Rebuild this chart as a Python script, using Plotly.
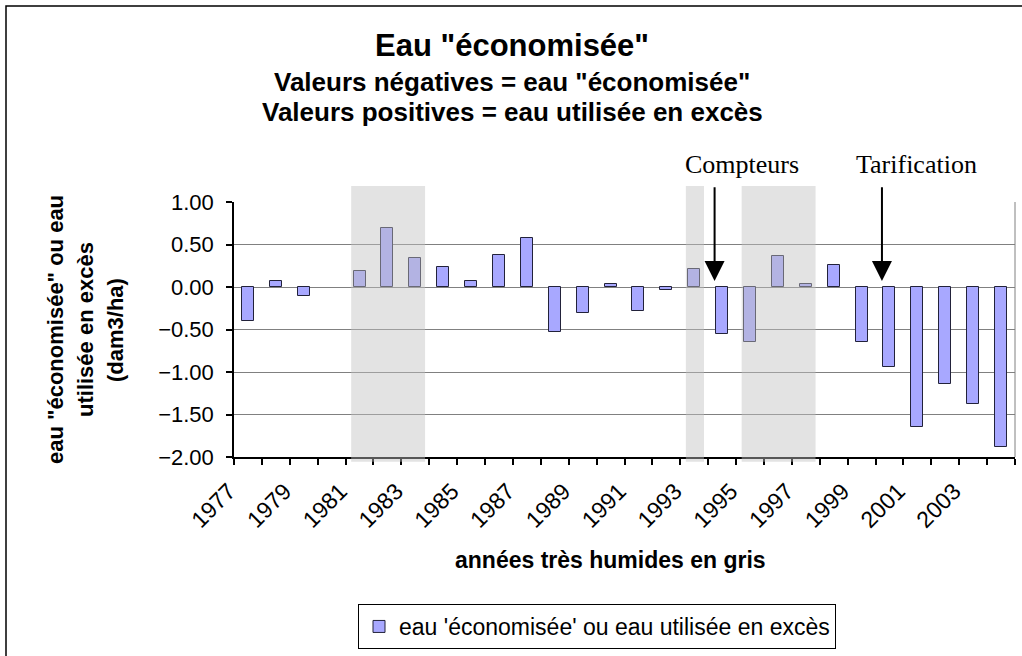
import plotly.graph_objects as go

# ---------------- data ----------------
years = list(range(1977, 2005))
values = [-0.40, 0.07, -0.10, None, 0.19, 0.70, 0.34, 0.24, 0.07, 0.38, 0.58,
          -0.53, -0.30, 0.03, -0.28, -0.03, 0.21, -0.55, -0.65, 0.36, 0.03,
          0.26, -0.65, -0.94, -1.65, -1.14, -1.38, -1.88]
tick_years = list(range(1977, 2004, 2))
tick_labels = [str(y) for y in tick_years]
y_ticks = [1.0, 0.5, 0.0, -0.5, -1.0, -1.5, -2.0]
wet_start = [1981, 1993, 1995]
wet_end = [1983, 1993, 1997]
event_names = ["Compteurs", "Tarification"]
event_years = [1994, 2000]

series_name = "eau 'économisée' ou eau utilisée en excès"
title_lines = ['Eau "économisée"',
               'Valeurs négatives = eau "économisée"',
               'Valeurs positives = eau utilisée en excès']
ytitle_lines = ['eau "économisée" ou eau', 'utilisée en excès', '(dam3/ha)']
xtitle = "années très humides en gris"

# ---------------- layout geometry (pixels) ----------------
W, H = 1022, 656
L, R, T, B = 234, 1015, 202, 457
PW, PH = R - L, B - T


def px(p):
    return (p - L) / PW


def py(p):
    return (B - p) / PH


SANS = "Liberation Sans, Arial, sans-serif"
SERIF = "Liberation Serif, Times New Roman, serif"

fig = go.Figure()
fig.add_trace(go.Bar(
    x=years, y=values, width=0.43, name=series_name,
    marker=dict(color="#a8a8ff", line=dict(color="#22223a", width=1)),
    showlegend=True,
))

shapes = []
# wet-year shading (drawn over bars, semi-transparent like the dithered fill)
for s, e in zip(wet_start, wet_end):
    shapes.append(dict(type="rect", xref="x", yref="paper",
                       x0=s - 0.3, x1=e + 0.35, y0=py(461.7), y1=py(186),
                       fillcolor="#c0c0c0", opacity=0.45, line=dict(width=0),
                       layer="above"))
# right border of plot area
shapes.append(dict(type="line", xref="paper", yref="paper", x0=1, x1=1, y0=0, y1=1,
                   line=dict(color="#808080", width=1)))
# outer chart border
shapes.append(dict(type="rect", xref="paper", yref="paper",
                   x0=px(6), x1=px(W + 20), y0=py(H + 20), y1=py(6),
                   line=dict(color="black", width=1.5), fillcolor="rgba(0,0,0,0)"))

annotations = []
# titles
title_sizes = [31, 26, 26]
title_y = [45, 82, 112]
for t, s, yy in zip(title_lines, title_sizes, title_y):
    annotations.append(dict(text="<b>%s</b>" % t, xref="paper", yref="paper",
                            x=px(512), y=py(yy), showarrow=False,
                            xanchor="center", yanchor="middle",
                            font=dict(family=SANS, size=s, color="black")))
# y-axis title lines
for t, xx in zip(ytitle_lines, [55, 85, 115]):
    annotations.append(dict(text="<b>%s</b>" % t, xref="paper", yref="paper",
                            x=px(xx), y=py(330), showarrow=False, textangle=-90,
                            xanchor="center", yanchor="middle",
                            font=dict(family=SANS, size=22, color="black")))
# x-axis title
annotations.append(dict(text="<b>%s</b>" % xtitle, xref="paper", yref="paper",
                        x=px(610), y=py(560), showarrow=False,
                        xanchor="center", yanchor="middle",
                        font=dict(family=SANS, size=23, color="black")))
# events: labels and arrows
for name, yr, cx in zip(event_names, event_years, [742, 916]):
    annotations.append(dict(text=name, xref="paper", yref="paper",
                            x=px(cx), y=py(164), showarrow=False,
                            xanchor="center", yanchor="middle",
                            font=dict(family=SERIF, size=26, color="black")))
    annotations.append(dict(text="", x=yr - 0.27, y=0.07, xref="x", yref="y",
                            ax=yr - 0.27, ay=1.19, axref="x", ayref="y",
                            showarrow=True, arrowhead=2, arrowsize=2,
                            arrowwidth=2, arrowcolor="black", standoff=0))

fig.update_layout(
    width=W, height=H, autosize=False,
    margin=dict(l=L, r=W - R, t=T, b=H - B, pad=0, autoexpand=False),
    paper_bgcolor="white", plot_bgcolor="white",
    bargap=0,
    shapes=shapes, annotations=annotations,
    legend=dict(orientation="h", x=px(358), y=py(604), xanchor="left", yanchor="top",
                bordercolor="black", borderwidth=1, bgcolor="white",
                font=dict(family=SANS, size=23, color="black"),
                itemwidth=30),
    xaxis=dict(type="linear", range=[1976.5, 2004.5], automargin=False,
               tickmode="array", tickvals=tick_years, ticktext=tick_labels,
               tickangle=-45, ticks="", showgrid=False, zeroline=False,
               showline=True, linecolor="black", linewidth=1.5,
               tickfont=dict(family=SANS, size=23, color="black"),
               ticklabelshift=-19, ticklabelstandoff=10,
               minor=dict(tickmode="linear", tick0=1976.5, dtick=1,
                          ticks="outside", ticklen=6, tickcolor="black",
                          tickwidth=1.5, showgrid=False)),
    yaxis=dict(range=[-2.0, 1.0], tickmode="array", tickvals=y_ticks, automargin=False,
               tickformat=".2f", showgrid=True, gridcolor="#808080", gridwidth=1,
               zeroline=False, showline=True, linecolor="black", linewidth=1.5,
               ticks="outside", ticklen=6, tickcolor="black", tickwidth=1.5,
               tickfont=dict(family=SANS, size=22, color="black"),
               ticklabelstandoff=8),
)

fig.write_html(
    "out.html",
    config={"displayModeBar": False},
    post_script="document.body.style.margin='0';document.body.style.overflow='hidden';",
)
